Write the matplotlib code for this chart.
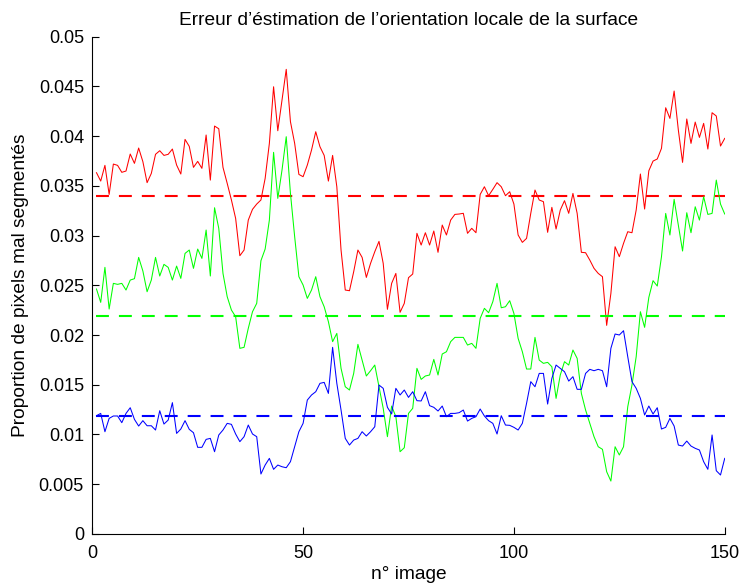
import matplotlib.pyplot as plt
from matplotlib.ticker import FuncFormatter

plt.rcParams['font.family'] = ['Liberation Sans', 'DejaVu Sans']

# error per image (x 1e-3)
red = [36.31, 35.47, 37.05, 34.13, 37.18, 37.05, 36.35, 36.48, 38.19, 37.25,
       38.79, 37.42, 35.31, 36.24, 38.16, 38.52, 38.05, 38.16, 38.69, 37.08,
       36.18, 39.66, 38.96, 36.85, 37.45, 36.75, 40.10, 35.57, 41.00, 40.73,
       36.85, 35.24, 33.57, 31.72, 27.97, 28.54, 31.55, 32.63, 33.16, 33.57,
       35.74, 39.26, 44.95, 40.53, 43.61, 46.70, 41.44, 39.26, 36.14, 35.91,
       37.08, 38.59, 40.43, 38.92, 38.05, 35.47, 38.05, 34.90, 28.54, 24.52,
       24.45, 26.36, 28.54, 27.80, 25.79, 27.20, 28.37, 29.41, 27.20, 22.58,
       25.19, 26.19, 22.28, 23.18, 25.76, 26.13, 30.22, 29.04, 30.28, 29.04,
       30.45, 28.31, 31.05, 30.05, 31.55, 32.12, 32.16, 32.23, 30.22, 30.72,
       30.28, 34.13, 34.90, 34.00, 34.64, 35.31, 34.90, 34.00, 34.40, 33.16,
       30.05, 29.31, 29.71, 32.23, 34.57, 33.57, 33.40, 30.32, 32.83, 30.65,
       32.56, 33.50, 32.23, 34.23, 32.23, 28.31, 28.27, 27.53, 26.70, 26.19,
       25.86, 20.97, 24.18, 28.87, 27.87, 29.21, 30.38, 30.28, 32.56, 36.18,
       32.66, 36.51, 37.48, 37.69, 38.76, 42.84, 41.77, 44.52, 40.60, 37.35,
       41.71, 39.26, 41.40, 39.86, 41.27, 38.69, 42.34, 42.01, 38.99, 39.76]

green = [24.62, 23.28, 26.80, 22.61, 25.19, 25.09, 25.19, 24.52, 25.52, 25.66,
         27.80, 26.43, 24.35, 25.52, 27.80, 25.93, 27.10, 26.80, 25.52, 26.93,
         25.69, 28.20, 28.54, 26.70, 28.64, 27.70, 30.55, 25.93, 32.79, 30.72,
         26.19, 23.85, 22.51, 21.84, 18.66, 18.76, 20.67, 22.34, 23.18, 27.47,
         28.64, 31.55, 38.36, 33.73, 36.58, 39.93, 34.23, 29.88, 25.86, 25.02,
         23.68, 24.52, 25.86, 23.85, 22.84, 21.34, 19.33, 20.16, 16.65, 14.80,
         14.47, 16.14, 19.06, 17.48, 15.88, 16.41, 16.98, 14.80, 12.63, 9.78,
         12.86, 11.79, 8.27, 8.67, 12.12, 12.63, 16.65, 15.54, 15.88, 15.98,
         17.55, 15.98, 18.09, 18.32, 19.33, 19.76, 19.76, 19.76, 18.99, 19.16,
         18.66, 21.67, 22.68, 22.24, 23.35, 25.19, 22.74, 22.84, 23.45, 22.17,
         19.66, 18.32, 16.58, 16.58, 19.76, 17.48, 17.15, 17.25, 16.81, 13.63,
         15.98, 17.32, 16.98, 18.49, 17.65, 14.13, 12.46, 11.12, 9.78, 8.77,
         8.51, 6.26, 5.32, 8.77, 7.94, 8.77, 12.79, 14.97, 17.82, 22.34,
         20.77, 23.78, 25.46, 24.92, 27.87, 32.22, 30.05, 33.63, 31.05, 28.44,
         32.29, 30.28, 32.89, 31.55, 33.90, 32.12, 32.22, 35.57, 33.16, 32.16]

blue = [11.89, 12.12, 10.28, 11.62, 11.86, 11.86, 11.19, 12.12, 12.69, 11.52,
        10.85, 11.39, 10.88, 10.88, 10.45, 12.39, 11.05, 11.45, 13.20, 10.11,
        10.55, 11.39, 10.52, 10.18, 8.71, 8.71, 9.51, 9.61, 8.27, 9.95,
        10.45, 11.12, 11.02, 10.05, 9.28, 9.78, 10.95, 10.05, 9.78, 6.03,
        6.93, 7.60, 6.50, 6.93, 6.76, 6.66, 7.27, 8.77, 10.28, 11.12,
        13.46, 13.97, 14.30, 15.14, 15.24, 14.13, 18.76, 15.14, 12.46, 9.61,
        8.94, 9.44, 9.61, 10.28, 9.85, 10.28, 10.78, 14.97, 14.64, 12.73,
        12.06, 14.64, 13.97, 14.47, 13.73, 14.30, 13.40, 13.37, 14.30, 12.90,
        12.73, 12.36, 12.86, 11.79, 12.12, 12.12, 12.19, 12.46, 11.35, 11.62,
        11.79, 12.56, 11.86, 11.39, 11.12, 10.05, 11.89, 10.95, 10.92, 10.72,
        10.45, 11.12, 13.13, 15.31, 14.80, 16.14, 16.14, 13.06, 15.64, 16.98,
        16.65, 16.31, 15.37, 15.81, 14.54, 14.54, 16.14, 16.55, 16.41, 16.55,
        16.41, 14.80, 18.66, 20.10, 20.00, 20.43, 17.82, 15.31, 14.64, 13.63,
        11.96, 12.86, 12.06, 12.69, 10.55, 10.72, 11.62, 10.85, 8.94, 8.84,
        9.34, 8.84, 8.61, 8.44, 7.27, 6.50, 9.95, 6.36, 5.93, 7.60]

# mean levels (dashed)
means = [0.034, 0.0219, 0.0119]
colours = ['#ff0000', '#00ff00', '#0000ff']

images = list(range(1, len(red) + 1))

fig = plt.figure(figsize=(7.43, 5.87), dpi=100)
ax = fig.add_axes([0.1242, 0.0903, 0.8512, 0.8475])

for serie, mean, c in zip([red, green, blue], means, colours):
    ax.plot(images, [v / 1000 for v in serie], color=c, linewidth=0.75)
    ax.plot([images[0], images[-1]], [mean, mean], color=c, linewidth=1.5,
            linestyle=(0, (6.2, 4.8)))

ax.set_xlim(0, 150)
ax.set_ylim(0, 0.05)
ax.set_xticks([0, 50, 100, 150])
ax.set_yticks([i * 0.005 for i in range(11)])
ax.yaxis.set_major_formatter(FuncFormatter(lambda v, p: '%g' % round(v, 3)))

for side in ['top', 'right']:
    ax.spines[side].set_visible(False)
ax.tick_params(direction='in', length=5, labelsize=13)
ax.tick_params(axis='x', pad=8)
ax.tick_params(axis='y', pad=6)

ax.set_title("Erreur d\u2019\u00e9stimation de l\u2019orientation locale de la surface",
             fontsize=13.8, pad=8)
ax.set_xlabel("n\u00b0 image", fontsize=13.8, labelpad=3)
ax.set_ylabel("Proportion de pixels mal segment\u00e9s", fontsize=13.8, labelpad=7)

fig.savefig('out.png', dpi=100)
